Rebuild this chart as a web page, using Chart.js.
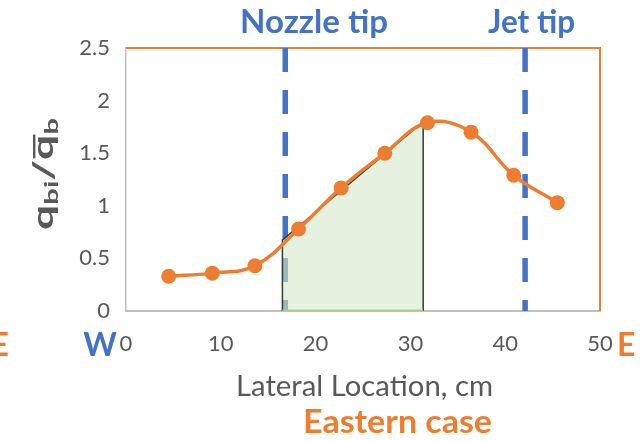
<!DOCTYPE html>
<html>
<head>
<meta charset="utf-8">
<script src="https://cdn.jsdelivr.net/npm/chart.js@4.4.1/dist/chart.umd.min.js"></script>
<style>
  html, body { margin: 0; padding: 0; background: #ffffff; }
  #wrap { width: 640px; height: 441px; }
</style>
</head>
<body>
<div id="wrap"><canvas id="c" width="640" height="441"></canvas></div>
<script>
// ---- data ----
const lateralX = [4.5, 9.1, 13.6, 18.2, 22.7, 27.3, 31.8, 36.4, 40.9, 45.5];
const qRatio   = [0.33, 0.36, 0.43, 0.78, 1.17, 1.50, 1.79, 1.70, 1.29, 1.03];
const markerX = [16.8, 42.1];
const markerLabels = ['Nozzle tip', 'Jet tip'];
const shadeX = [16.5, 31.35];
const shadeTop = [0.675, 1.80];
const xTickValues = [0, 10, 20, 30, 40, 50];
const yTickValues = [0, 0.5, 1, 1.5, 2, 2.5];
const xTitle = 'Lateral Location, cm';
const caseLabel = 'Eastern case';

const ORANGE = '#ED7D31';
const BLUE = '#4472C4';
const GREY_TXT = '#595959';
const FONT = 'Lato, "Open Sans", "DejaVu Sans", sans-serif';

const mainPoints = lateralX.map((x, i) => ({ x: x, y: qRatio[i] }));
const shadePoints = [
  { x: shadeX[0], y: 0 },
  { x: shadeX[0], y: shadeTop[0] },
  { x: shadeX[1], y: shadeTop[1] },
  { x: shadeX[1], y: 0 }
];
const shadeBase = [{ x: shadeX[0], y: 0 }, { x: shadeX[1], y: 0 }];
const markerDatasets = markerX.map((mx, i) => ({
  label: markerLabels[i],
  data: [{ x: mx, y: 2.5 }, { x: mx, y: 0 }],
  showLine: true,
  borderColor: BLUE,
  borderWidth: 5.5,
  borderDash: [24, 18],
  pointRadius: 0,
  fill: false,
  order: 5
}));

function fitText(ctx, text, left, baseline, font, color, width, squeeze) {
  ctx.save();
  ctx.font = font;
  ctx.fillStyle = color;
  ctx.textAlign = 'left';
  ctx.textBaseline = 'alphabetic';
  const w = ctx.measureText(text).width;
  const s = width / w;
  ctx.translate(left, baseline);
  ctx.scale(s, squeeze ? 1 : s);
  ctx.fillText(text, 0, 0);
  ctx.restore();
}

const decor = {
  id: 'decor',
  beforeDatasetsDraw(chart) {
    const ctx = chart.ctx, a = chart.chartArea;
    ctx.save();
    ctx.strokeStyle = ORANGE;
    ctx.lineWidth = 2;
    ctx.beginPath();
    ctx.moveTo(a.left, a.top);
    ctx.lineTo(a.right, a.top);
    ctx.lineTo(a.right, a.bottom);
    ctx.stroke();
    ctx.restore();
  },
  afterDraw(chart) {
    const ctx = chart.ctx;
    fitText(ctx, markerLabels[0], 240, 33, 'bold 33px ' + FONT, BLUE, 148, true);
    fitText(ctx, markerLabels[1], 488, 33, 'bold 33px ' + FONT, BLUE, 87, true);
    fitText(ctx, xTitle, 236, 396, '23px ' + FONT, GREY_TXT, 257, false);
    fitText(ctx, caseLabel, 303, 433, 'bold 32px ' + FONT, ORANGE, 189, true);
    ctx.save();
    ctx.textBaseline = 'alphabetic';
    ctx.font = 'bold 32px ' + FONT;
    ctx.fillStyle = BLUE;
    ctx.textAlign = 'center';
    ctx.fillText('W', 100, 356);
    ctx.fillStyle = ORANGE;
    ctx.textAlign = 'right';
    ctx.fillText('E', 9, 356);
    ctx.textAlign = 'left';
    ctx.fillText('E', 617, 356);
    ctx.restore();
    // y axis title: q_bi / q̄_b
    ctx.save();
    ctx.translate(53, 174);
    ctx.rotate(-Math.PI / 2);
    const big = 'bold 29px ' + FONT, small = 'bold 19px ' + FONT;
    const parts = [
      { t: 'q', f: big, dy: 0 },
      { t: 'bi', f: small, dy: 5 },
      { t: '/', f: big, dy: 0 },
      { t: 'q', f: big, dy: 0, bar: true },
      { t: 'b', f: small, dy: 5 }
    ];
    let total = 0;
    parts.forEach(p => { ctx.font = p.f; p.w = ctx.measureText(p.t).width; total += p.w; });
    const target = 112;
    ctx.scale(target / total, 1);
    let cx = -total / 2;
    ctx.fillStyle = GREY_TXT;
    ctx.textBaseline = 'alphabetic';
    ctx.textAlign = 'left';
    parts.forEach(p => {
      ctx.font = p.f;
      ctx.fillText(p.t, cx, p.dy);
      if (p.bar) ctx.fillRect(cx + 1, -20, p.w - 1, 2.4);
      cx += p.w;
    });
    ctx.restore();
  }
};

function build() {
  new Chart(document.getElementById('c'), {
    type: 'scatter',
    data: {
      datasets: [
        {
          label: 'q ratio',
          data: mainPoints,
          showLine: true,
          tension: 0.4,
          borderColor: ORANGE,
          borderWidth: 3.5,
          pointRadius: 7.5,
          pointHoverRadius: 7.5,
          pointBackgroundColor: ORANGE,
          pointBorderColor: ORANGE,
          pointBorderWidth: 0,
          fill: false,
          order: 1
        },
        {
          label: 'shaded',
          data: shadePoints,
          showLine: true,
          tension: 0,
          borderColor: 'rgba(25,45,25,0.9)',
          borderWidth: 1.5,
          backgroundColor: 'rgba(214,232,202,0.6)',
          pointRadius: 0,
          fill: 'origin',
          order: 3
        },
        {
          label: 'shaded base',
          data: shadeBase,
          showLine: true,
          borderColor: '#A9D18E',
          borderWidth: 3,
          pointRadius: 0,
          fill: false,
          order: 2
        },
        ...markerDatasets
      ]
    },
    options: {
      responsive: false,
      animation: false,
      devicePixelRatio: 1,
      layout: { padding: { left: 0, right: 40, top: 48, bottom: 0 } },
      plugins: { legend: { display: false }, tooltip: { enabled: false } },
      scales: {
        x: {
          type: 'linear',
          min: 0, max: 50,
          afterBuildTicks: (s) => { s.ticks = xTickValues.map(v => ({ value: v })); },
          afterFit: (s) => { s.height = 130; },
          grid: { display: false, drawTicks: false },
          border: { display: true, color: '#BFBFBF', width: 2 },
          ticks: { color: GREY_TXT, font: { family: FONT, size: 22 }, padding: 20, maxRotation: 0,
                   callback: (v) => String(v) }
        },
        y: {
          type: 'linear',
          min: 0, max: 2.5,
          afterBuildTicks: (s) => { s.ticks = yTickValues.map(v => ({ value: v })); },
          afterFit: (s) => { s.width = 126; },
          grid: { display: false, drawTicks: false },
          border: { display: true, color: '#BFBFBF', width: 1.5 },
          ticks: { color: GREY_TXT, font: { family: FONT, size: 22 }, padding: 16,
                   callback: (v) => String(v) }
        }
      }
    },
    plugins: [decor]
  });
}

const loads = ['22px Lato', '23px Lato', 'bold 32px Lato'].map(f => document.fonts.load(f).catch(() => null));
Promise.all(loads).then(build, build);
</script>
</body>
</html>
